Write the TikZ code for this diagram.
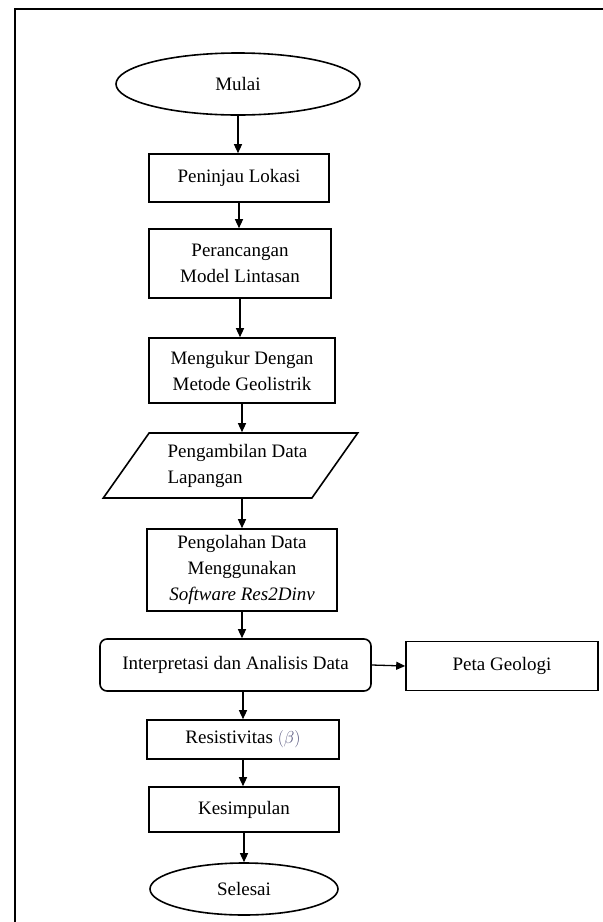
\documentclass[tikz,border=0pt]{standalone}
\usepackage{fontspec}
\setmainfont{Liberation Serif}
\usepackage{amsmath}
\usetikzlibrary{shapes.geometric,arrows.meta}
\definecolor{betagray}{RGB}{80,80,120}

\tikzset{
  box/.style={draw, line width=1.6pt, align=center, inner sep=0pt},
  terminal/.style={draw, ellipse, line width=1.6pt, inner sep=0pt},
  io/.style={draw, trapezium, trapezium left angle=45, trapezium right angle=135,
    trapezium stretches=true, line width=1.6pt, inner sep=0pt},
  flow/.style={line width=1.3pt, -{Triangle[length=9pt,width=8pt]}}
}

\begin{document}
\begin{tikzpicture}[x=1pt, y=-1pt, font=\fontsize{19}{26}\selectfont]
  \useasboundingbox (0,0) rectangle (603,922);
  \draw[line width=2.5pt] (603,9) -- (15,9) -- (15,922);

  \node[terminal, minimum width=244pt, minimum height=62pt] (mulai) at (238,84) {Mulai};
  \node[box, minimum width=180pt, minimum height=48pt] (lokasi) at (239,178) {Peninjau Lokasi};
  \node[box, minimum width=182pt, minimum height=69pt] (model) at (240,263.5) {Perancangan\\Model Lintasan};
  \node[box, minimum width=186pt, minimum height=65pt] (ukur) at (242,370.5) {Mengukur Dengan\\Metode Geolistrik};
  \node[io, minimum width=255pt, minimum height=65pt, align=left] (ambil) at (230.5,465.5) {\hspace*{14pt}Pengambilan Data\\\hspace*{14pt}Lapangan};
  \node[box, minimum width=190pt, minimum height=82pt] (olah) at (242,570) {Pengolahan Data\\Menggunakan\\\textit{Software Res2Dinv}};
  \node[box, rounded corners=7pt, minimum width=271pt, minimum height=52pt] (analisis) at (235.5,665) {Interpretasi dan Analisis Data};
  \node[box, minimum width=192pt, minimum height=49pt] (peta) at (502,666) {Peta Geologi};
  \node[box, minimum width=192pt, minimum height=39pt] (resist) at (243,739.5) {Resistivitas \textcolor{betagray}{$(\beta)$}};
  \node[box, minimum width=190pt, minimum height=45pt] (simpul) at (244,809.5) {Kesimpulan};
  \node[terminal, minimum width=188pt, minimum height=52pt] (selesai) at (244,889) {Selesai};

  \draw[flow] (mulai.south) -- (mulai.south |- lokasi.north);
  \draw[flow] (lokasi.south) -- (lokasi.south |- model.north);
  \draw[flow] (model.south) -- (model.south |- ukur.north);
  \draw[flow] (ukur.south) -- (ukur.south |- ambil.north);
  \draw[flow] (ambil.south -| olah.north) -- (olah.north);
  \draw[flow] (olah.south) -- (olah.south |- analisis.north);
  \draw[flow] (analisis.east) -- (peta.west);
  \draw[flow] (analisis.south -| resist.north) -- (resist.north);
  \draw[flow] (resist.south) -- (resist.south |- simpul.north);
  \draw[flow] (simpul.south) -- (simpul.south |- selesai.north);
\end{tikzpicture}
\end{document}
